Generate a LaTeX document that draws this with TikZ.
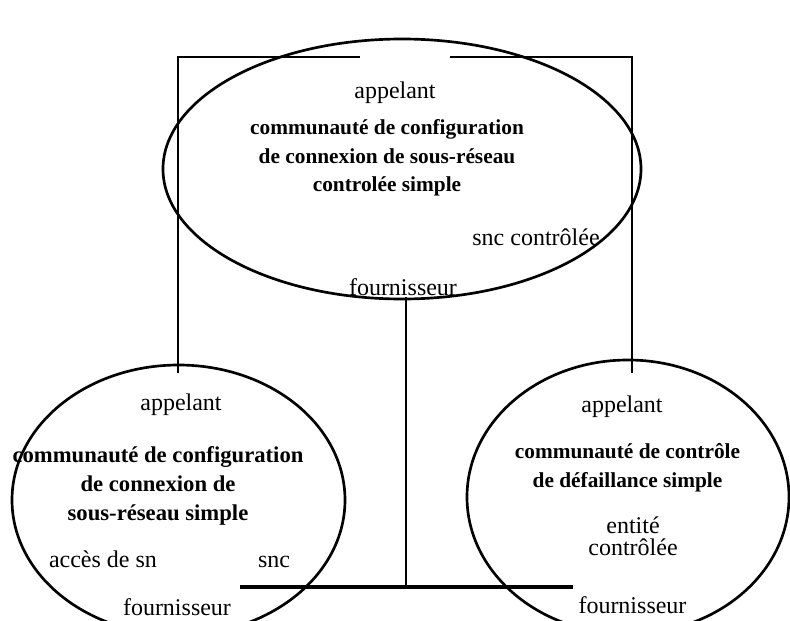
\documentclass[tikz,border=0pt]{standalone}
\usepackage{fontspec}
\setmainfont{Liberation Serif}
\usepackage{tikz}
\usetikzlibrary{shapes,positioning}

\tikzset{
  comm/.style={draw, ellipse, line width=2pt, inner sep=0pt},
  role/.style={inner sep=0.75pt, font=\fontsize{18}{21}\selectfont},
  title/.style={inner sep=0.75pt, align=center, font=\fontsize{16}{21.4}\selectfont\bfseries},
  link/.style={line width=2pt},
  bar/.style={line width=2.8pt}
}

\begin{document}
\begin{tikzpicture}[x=0.75pt,y=0.75pt,yscale=-1,xscale=1]
\useasboundingbox (0,0) rectangle (790,621);

%Ellipses
\node [comm, minimum width=358.5pt, minimum height=195pt] (top) at (402,169) {};
\node [comm, minimum width=249.75pt, minimum height=202.5pt] (left) at (178.5,500) {};
\node [comm, minimum width=241.5pt, minimum height=205.5pt] (right) at (628,497) {};

%Straight Lines
\coordinate (gapL) at (360,57);
\coordinate (gapR) at (450,57);
\coordinate (callL) at (178,373);
\coordinate (callR) at (632,373);
\coordinate (provT) at (406,297);
\coordinate (barL) at (240,587);
\coordinate (barR) at (573,587);
\draw [link] (gapL) -| (callL) ;
\draw [link] (gapR) -| (callR) ;
\draw [link] (provT) -- (provT |- barL) ;
\draw [bar] (barL) -- (barR) ;

% Text Node
\draw (395,93) node [role] (topcall) {appelant};
% Text Node
\draw (387,158) node [title] (toptitle) {communauté de configuration\\de connexion de sous-réseau\\controlée simple};
% Text Node
\draw (536,237) node [role] (topsnc) {snc contrôlée};
% Text Node
\draw (403,287) node [role] (topprov) {fournisseur};

% Text Node
\draw (181,405) node [role] (leftcall) {appelant};
% Text Node
\draw (158,486) node [title, font=\fontsize{17}{22}\selectfont\bfseries] (lefttitle) {communauté de configuration\\de connexion de\\sous-réseau simple};
% Text Node
\draw (103,567) node [role, anchor=base] (leftsn) {accès de sn};
% Text Node
\draw (274,567) node [role, anchor=base] (leftsnc) {snc};
% Text Node
\draw (177,607) node [role] (leftprov) {fournisseur};

% Text Node
\draw (622,407) node [role] (rightcall) {appelant};
% Text Node
\draw (627.5,468) node [title] (righttitle) {communauté de contrôle\\de défaillance simple};
% Text Node
\draw (633,536) node [role, align=center, font=\fontsize{18}{16.5}\selectfont] (rightent) {entité\\contrôlée};
% Text Node
\draw (632.5,605) node [role] (rightprov) {fournisseur};

\end{tikzpicture}
\end{document}
